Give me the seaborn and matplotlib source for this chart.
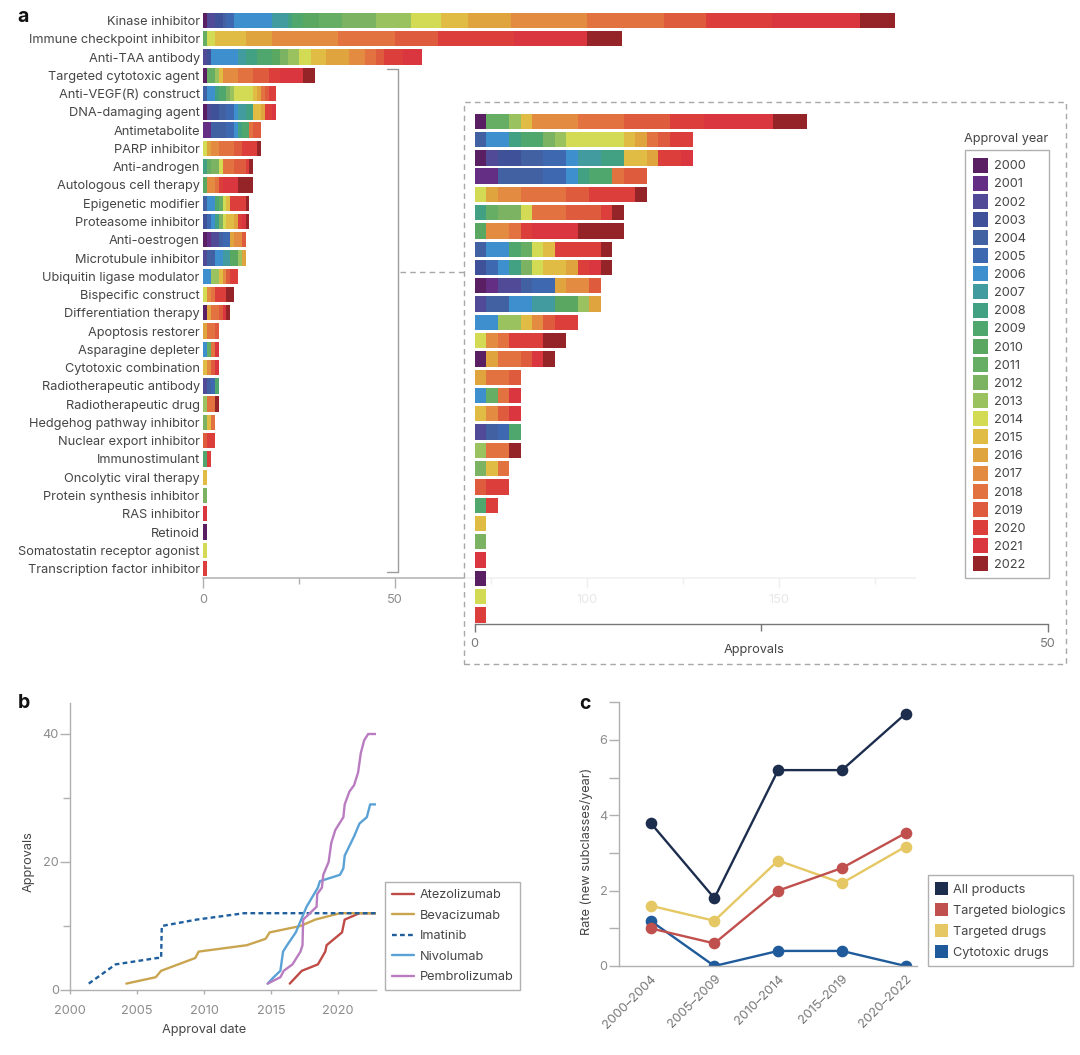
import numpy as np
import pandas as pd
import matplotlib
matplotlib.use("Agg")
import matplotlib.pyplot as plt
import seaborn as sns
from matplotlib.lines import Line2D
from matplotlib.patches import Patch, Rectangle
from matplotlib.ticker import FixedLocator

W, H = 1080, 1055

years = list(range(2000, 2023))
year_colors = ["#5A1F63", "#642E85", "#514A97", "#3F5299", "#4161A3", "#3E68B0", "#3D8FCE", "#429B9F",
               "#42A083", "#4FA76D", "#5AA762", "#65AE64", "#7BB363", "#9AC25F", "#D3DB55", "#E0BC45",
               "#E0A43F", "#E38B41", "#E27340", "#DF5B3D", "#DC3F3B", "#D9363F", "#942427"]

categories = ["Kinase inhibitor", "Immune checkpoint inhibitor", "Anti-TAA antibody", "Targeted cytotoxic agent",
              "Anti-VEGF(R) construct", "DNA-damaging agent", "Antimetabolite", "PARP inhibitor", "Anti-androgen",
              "Autologous cell therapy", "Epigenetic modifier", "Proteasome inhibitor", "Anti-oestrogen",
              "Microtubule inhibitor", "Ubiquitin ligase modulator", "Bispecific construct",
              "Differentiation therapy", "Apoptosis restorer", "Asparagine depleter", "Cytotoxic combination",
              "Radiotherapeutic antibody", "Radiotherapeutic drug", "Hedgehog pathway inhibitor",
              "Nuclear export inhibitor", "Immunostimulant", "Oncolytic viral therapy",
              "Protein synthesis inhibitor", "RAS inhibitor", "Retinoid", "Somatostatin receptor agonist",
              "Transcription factor inhibitor"]

# (year, approvals)
kinase = [(2000, 1), (2002, 2), (2003, 2), (2004, 1), (2005, 2), (2006, 10), (2007, 4), (2008, 1), (2009, 3),
          (2010, 4), (2011, 6), (2012, 9), (2013, 9), (2014, 8), (2015, 7), (2016, 11), (2017, 20), (2018, 20),
          (2019, 11), (2020, 17), (2021, 23), (2022, 9)]
immune = [(2011, 1), (2014, 2), (2015, 8), (2016, 7), (2017, 17), (2018, 15), (2019, 11), (2020, 20), (2021, 19),
          (2022, 9)]
anti_taa = [(2002, 1), (2003, 1), (2006, 7), (2007, 2), (2008, 3), (2009, 4), (2010, 2), (2012, 2), (2013, 3),
            (2014, 3), (2015, 4), (2016, 6), (2017, 4), (2018, 3), (2019, 2), (2020, 5), (2021, 5)]
cytotoxic_agent = [(2000, 1), (2011, 2), (2013, 1), (2015, 1), (2017, 4), (2018, 4), (2019, 4), (2020, 3), (2021, 6),
                   (2022, 3)]
anti_vegf = [(2004, 1), (2006, 2), (2008, 1), (2009, 2), (2012, 1), (2013, 1), (2014, 5), (2015, 1), (2016, 1),
             (2018, 1), (2019, 1), (2020, 2)]
dna_damaging = [(2000, 1), (2002, 1), (2003, 2), (2004, 2), (2005, 2), (2006, 1), (2007, 2), (2008, 2), (2015, 2),
                (2016, 1), (2020, 2), (2021, 1)]
antimetabolite = [(2001, 2), (2004, 4), (2005, 2), (2006, 1), (2008, 1), (2009, 2), (2018, 1), (2019, 2)]
parp = [(2014, 1), (2016, 1), (2017, 2), (2018, 4), (2019, 2), (2020, 4), (2022, 1)]
anti_androgen = [(2008, 1), (2011, 1), (2012, 2), (2014, 1), (2018, 3), (2019, 3), (2020, 1), (2022, 1)]
autologous = [(2010, 1), (2017, 2), (2018, 1), (2020, 1), (2021, 4), (2022, 4)]
epigenetic = [(2004, 1), (2006, 2), (2009, 1), (2011, 1), (2014, 1), (2015, 1), (2020, 4), (2022, 1)]
proteasome = [(2003, 1), (2005, 1), (2006, 1), (2008, 1), (2012, 1), (2014, 1), (2015, 2), (2016, 1), (2020, 1),
              (2021, 1), (2022, 1)]
anti_oestrogen = [(2000, 1), (2001, 1), (2002, 2), (2004, 1), (2005, 2), (2016, 1), (2017, 2), (2019, 1)]
microtubule = [(2002, 1), (2004, 2), (2006, 2), (2007, 2), (2010, 2), (2013, 1), (2016, 1)]
ubiquitin = [(2006, 2), (2013, 2), (2015, 1), (2017, 1), (2019, 1), (2020, 2)]
bispecific = [(2014, 1), (2017, 1), (2018, 1), (2020, 3), (2022, 2)]
differentiation = [(2000, 1), (2016, 1), (2018, 2), (2019, 1), (2021, 1), (2022, 1)]
apoptosis = [(2016, 1), (2018, 2), (2019, 1)]
asparagine = [(2006, 1), (2011, 1), (2018, 1), (2021, 1)]
cytotoxic_combo = [(2015, 1), (2017, 1), (2019, 1), (2021, 1)]
radio_antibody = [(2002, 1), (2004, 1), (2005, 1), (2009, 1)]
radio_drug = [(2013, 1), (2018, 2), (2022, 1)]
hedgehog = [(2012, 1), (2015, 1), (2018, 1)]
nuclear_export = [(2019, 1), (2020, 2)]
immunostimulant = [(2009, 1), (2020, 1)]
oncolytic = [(2015, 1)]
protein_synthesis = [(2012, 1)]
ras = [(2021, 1)]
retinoid = [(2000, 1)]
somatostatin = [(2014, 1)]
transcription = [(2020, 1)]

all_rows = [kinase, immune, anti_taa, cytotoxic_agent, anti_vegf, dna_damaging, antimetabolite, parp, anti_androgen,
            autologous, epigenetic, proteasome, anti_oestrogen, microtubule, ubiquitin, bispecific, differentiation,
            apoptosis, asparagine, cytotoxic_combo, radio_antibody, radio_drug, hedgehog, nuclear_export,
            immunostimulant, oncolytic, protein_synthesis, ras, retinoid, somatostatin, transcription]

# panel b, cumulative approvals
atezo_x = [2016.4, 2017.3, 2018.5, 2019.05, 2019.15, 2020.3, 2020.5, 2021.6, 2022.8]
atezo_y = [1, 3, 4, 6, 7, 9, 11, 12, 12]
bev_x = [2004.2, 2006.4, 2006.8, 2009.35, 2009.6, 2013.2, 2014.6, 2014.9, 2017.2, 2018.3, 2020.15, 2022.8]
bev_y = [1, 2, 3, 5, 6, 7, 8, 9, 10, 11, 12, 12]
ima_x = [2001.4, 2003.4, 2006.5, 2006.8, 2006.85, 2009.45, 2013.0, 2022.8]
ima_y = [1, 4, 5, 5, 10, 11, 12, 12]
nivo_x = [2014.75, 2015.2, 2015.7, 2015.9, 2016.2, 2016.85, 2017.65, 2018.5, 2018.65, 2020.15, 2020.4, 2020.5,
          2021.2, 2021.6, 2022.15, 2022.4, 2022.8]
nivo_y = [1, 2, 3, 6, 7, 9, 13, 16, 17, 18, 19, 21, 24, 26, 27, 29, 29]
pembro_x = [2014.75, 2015.7, 2015.95, 2016.6, 2017.2, 2017.35, 2017.4, 2017.9, 2018.4, 2018.45, 2018.8, 2018.9,
            2019.3, 2019.5, 2019.8, 2020.4, 2020.5, 2020.85, 2021.2, 2021.5, 2021.7, 2021.95, 2022.25, 2022.8]
pembro_y = [1, 2, 3, 4, 6, 7, 11, 12, 13, 15, 16, 18, 20, 23, 25, 27, 29, 31, 32, 34, 37, 39, 40, 40]

# panel c
periods = ["2000–2004", "2005–2009", "2010–2014", "2015–2019", "2020–2022"]
all_products = [3.8, 1.8, 5.2, 5.2, 6.7]
targeted_biologics = [1.0, 0.6, 2.0, 2.6, 3.53]
targeted_drugs = [1.6, 1.2, 2.8, 2.2, 3.17]
cytotoxic_drugs = [1.2, 0.0, 0.4, 0.4, 0.0]

GREY_TICK = "#8c8c8c"
DARK = "#454545"
LINE = "#b0b0b0"

sns.set_theme(style="ticks")
plt.rcParams["font.family"] = ["Inter", "DejaVu Sans"]
plt.rcParams["font.size"] = 9.2
plt.rcParams["axes.unicode_minus"] = False


def axes_px(fig, left, top, right, bottom, **kw):
    return fig.add_axes([left / W, 1 - bottom / H, (right - left) / W, (bottom - top) / H], **kw)


def fx(x):
    return x / W


def fy(y):
    return 1 - y / H


def stacked(ax, rows, names):
    recs = []
    for name, row in zip(names, rows):
        for yr, n in row:
            recs.append({"category": name, "year": yr, "count": n})
    df = pd.DataFrame(recs)
    # histplot puts the first hue level at the far end of the stack
    sns.histplot(data=df, y="category", hue="year", weights="count", multiple="stack", discrete=True, shrink=0.84,
                 hue_order=years[::-1], palette=year_colors[::-1], linewidth=0, alpha=1, legend=False, ax=ax)
    ax.set_xlabel("")
    ax.set_ylabel("")


fig = plt.figure(figsize=(W / 100, H / 100), dpi=100)

# panel a, all subclasses
ax_a = axes_px(fig, 203.3, 5, 915, 577.7)
ax_a.patch.set_alpha(0)
stacked(ax_a, all_rows, categories)
ax_a.set_xlim(0, (915 - 203.3) / 3.84)
ax_a.set_ylim((577.7 - 20.5) / 18.27, (5 - 20.5) / 18.27)
ax_a.set_xticks([0, 50, 100, 150])
ax_a.xaxis.set_minor_locator(FixedLocator([25, 75, 125, 175]))
ax_a.tick_params(axis="x", which="major", length=7, width=1, color=LINE, labelcolor=GREY_TICK, labelsize=9.2, pad=5)
ax_a.tick_params(axis="x", which="minor", length=4, width=1, color=LINE)
ax_a.tick_params(axis="y", length=0, pad=2.5, labelcolor=DARK, labelsize=9.2)
sns.despine(ax=ax_a, left=True)
ax_a.spines["bottom"].set_color(LINE)
ax_a.spines["bottom"].set_linewidth(1.1)

# bracket and link to the inset
fig.add_artist(Line2D([fx(387), fx(397.5), fx(397.5), fx(387)], [fy(68.5), fy(68.5), fy(571.7), fy(571.7)],
                      color="#9c9c9c", lw=1))
fig.add_artist(Line2D([fx(400), fx(464)], [fy(272), fy(272)], color="#a8a8a8", lw=1, ls=(0, (4, 3))))

# washed out panel behind the inset
fig.add_artist(Rectangle((fx(464), fy(664)), (1066 - 464) / W, (664 - 102) / H, transform=fig.transFigure,
                         facecolor=(1, 1, 1, 0.8), edgecolor="#a8a8a8", lw=1, ls=(0, (4, 3)), zorder=1))

# inset of the smaller subclasses
ax_i = axes_px(fig, 474.7, 110, 1048, 624, zorder=2)
ax_i.patch.set_alpha(0)
stacked(ax_i, all_rows[3:], categories[3:])
ax_i.set_xlim(0, 50)
ax_i.set_ylim((624 - 121.3) / 18.28, (110 - 121.3) / 18.28)
ax_i.set_xticks([0, 50])
ax_i.xaxis.set_minor_locator(FixedLocator([25]))
ax_i.set_yticks([])
ax_i.tick_params(axis="x", which="major", length=6, width=1, color="#777777", labelcolor="#777777", labelsize=9.2,
                 pad=4)
ax_i.tick_params(axis="x", which="minor", length=5, width=1, color="#777777")
sns.despine(ax=ax_i, left=True)
ax_i.spines["bottom"].set_color("#777777")
ax_i.spines["bottom"].set_linewidth(1)
fig.text(fx(754), fy(650), "Approvals", ha="center", va="center", color=DARK, fontsize=9.2, zorder=3)

# year legend, frame drawn by hand because it is wider than its entries
fig.text(fx(1006), fy(139), "Approval year", ha="center", va="center", color=DARK, fontsize=9.2, zorder=3)
fig.add_artist(Rectangle((fx(965), fy(578)), (1049 - 965) / W, (578 - 150) / H, transform=fig.transFigure,
                         facecolor="white", edgecolor=LINE, lw=1, zorder=1.5))
year_handles = [Patch(facecolor=c, edgecolor="none", label=str(y)) for y, c in zip(years, year_colors)]
ax_i.legend(handles=year_handles, loc="upper left", bbox_to_anchor=(fx(965), fy(150)),
            bbox_transform=fig.transFigure, borderaxespad=0, frameon=False, fontsize=9.2,
            handlelength=1.17, handleheight=1.42, labelspacing=0.25, handletextpad=0.5, borderpad=0.6,
            labelcolor=DARK)

# panel b
ax_b = axes_px(fig, 70, 702.7, 375.7, 990)
line_specs = [("Atezolizumab", atezo_x, atezo_y, "#BF4B47", "-"),
              ("Bevacizumab", bev_x, bev_y, "#C9A550", "-"),
              ("Imatinib", ima_x, ima_y, "#1F5F9E", (0, (2, 1.4))),
              ("Nivolumab", nivo_x, nivo_y, "#5AA2D6", "-"),
              ("Pembrolizumab", pembro_x, pembro_y, "#B97CC0", "-")]
for name, xs, ys, col, ls in line_specs:
    sns.lineplot(x=xs, y=ys, color=col, linestyle=ls, linewidth=1.7, label=name, errorbar=None, ax=ax_b)
ax_b.set_xlim(2000, 2000 + (375.7 - 70) / 13.4)
ax_b.set_ylim(0, (990 - 702.7) / 6.4)
ax_b.set_xticks([2000, 2005, 2010, 2015, 2020])
ax_b.set_yticks([0, 20, 40])
ax_b.yaxis.set_minor_locator(FixedLocator([10, 30]))
ax_b.tick_params(axis="x", length=3, width=1, color=LINE, labelcolor=GREY_TICK, labelsize=9.2, pad=8)
ax_b.tick_params(axis="y", which="major", length=7, width=1, color=LINE, labelcolor=GREY_TICK, labelsize=9.2, pad=1)
ax_b.tick_params(axis="y", which="minor", length=5, width=1, color=LINE)
ax_b.set_xlabel("Approval date", color=DARK, fontsize=9.2)
ax_b.set_ylabel("Approvals", color=DARK, fontsize=9.2)
ax_b.xaxis.set_label_coords(0.437, -0.118)
ax_b.yaxis.set_label_coords(-0.115, 0.4455)
sns.despine(ax=ax_b)
for side in ["left", "bottom"]:
    ax_b.spines[side].set_color(LINE)
    ax_b.spines[side].set_linewidth(1)
leg_b = ax_b.legend(loc="lower left", bbox_to_anchor=(fx(385), fy(990)), bbox_transform=fig.transFigure,
                    borderaxespad=0, frameon=True, fancybox=False, fontsize=9.2, handlelength=1.7, handletextpad=0.45,
                    labelspacing=0.66, borderpad=0.55, labelcolor=DARK, edgecolor=LINE, framealpha=1)
leg_b.get_frame().set_linewidth(1)

# panel c
ax_c = axes_px(fig, 618.7, 702.3, 916.7, 966)
rate_specs = [("All products", all_products, "#1D2D4E"),
              ("Targeted biologics", targeted_biologics, "#C0504D"),
              ("Targeted drugs", targeted_drugs, "#E5C763"),
              ("Cytotoxic drugs", cytotoxic_drugs, "#1F5A9A")]
for name, vals, col in reversed(rate_specs):
    sns.lineplot(x=periods, y=vals, color=col, linewidth=1.7, marker="o", markersize=8.4, markeredgewidth=0,
                 errorbar=None, sort=False, ax=ax_c)
ax_c.set_xlim(-0.5, (916.7 - 650.7) / 63.75)
ax_c.set_ylim(0, 7)
ax_c.set_yticks([0, 2, 4, 6])
ax_c.yaxis.set_minor_locator(FixedLocator([1, 3, 5, 7]))
ax_c.tick_params(axis="y", which="major", length=7, width=1, color=LINE, labelcolor=GREY_TICK, labelsize=9.2, pad=1)
ax_c.tick_params(axis="y", which="minor", length=7, width=1, color=LINE)
ax_c.tick_params(axis="x", length=0, labelcolor="#777777", labelsize=9.2, pad=5)
for lab in ax_c.get_xticklabels():
    lab.set_rotation(45)
    lab.set_ha("right")
    lab.set_rotation_mode("anchor")
ax_c.set_ylabel("Rate (new subclasses/year)", color=DARK, fontsize=9.2)
ax_c.yaxis.set_label_coords(-0.086, 0.436)
sns.despine(ax=ax_c)
for side in ["left", "bottom"]:
    ax_c.spines[side].set_color(LINE)
    ax_c.spines[side].set_linewidth(1)
rate_handles = [Patch(facecolor=col, edgecolor="none", label=name) for name, _, col in rate_specs]
leg_c = ax_c.legend(handles=rate_handles, loc="lower left", bbox_to_anchor=(fx(928), fy(965.7)),
                    bbox_transform=fig.transFigure, borderaxespad=0, frameon=True, fancybox=False, fontsize=9.2,
                    handlelength=1.0, handleheight=1.22, labelspacing=0.55, handletextpad=0.45, borderpad=0.54,
                    labelcolor=DARK, edgecolor=LINE, framealpha=1)
leg_c.get_frame().set_linewidth(1)

# panel letters
for letter, x, y in [("a", 23, 17), ("b", 24, 703), ("c", 585, 704)]:
    fig.text(fx(x), fy(y), letter, ha="center", va="center", fontsize=14, fontweight="bold", color="#111111")

fig.savefig("out.png", dpi=100)
